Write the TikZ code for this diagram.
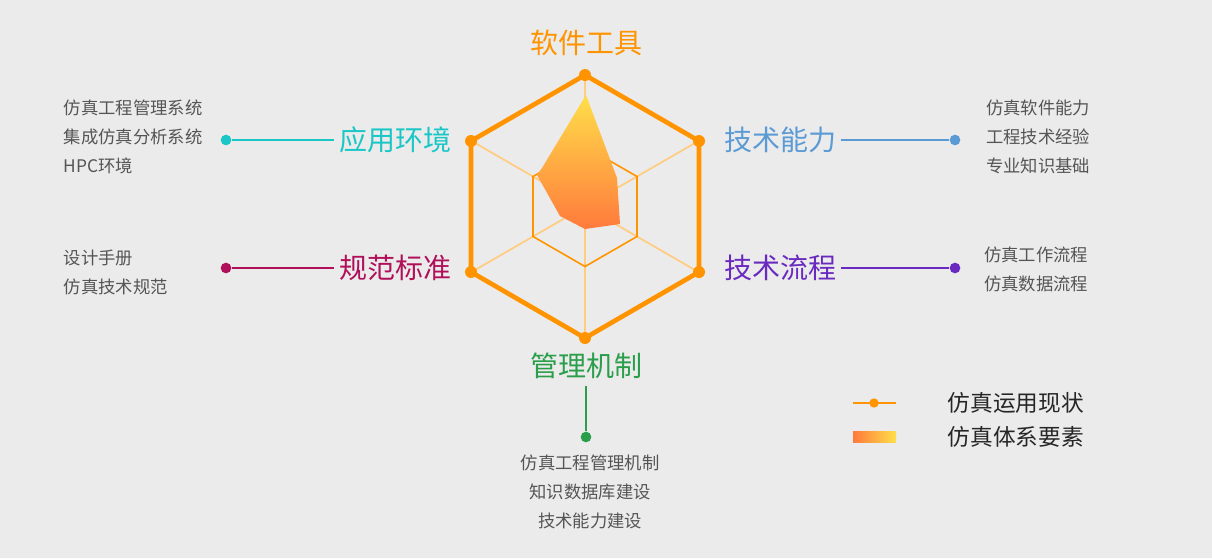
\documentclass[tikz,border=0pt]{standalone}
\usepackage{fontspec}
\setmainfont{Noto Sans CJK SC}
\usetikzlibrary{shadings}
\definecolor{bg}{HTML}{EBEBEB}
\definecolor{org}{HTML}{FF9400}
\definecolor{lorg}{HTML}{FFCC80}
\definecolor{gtxt}{HTML}{555555}
\definecolor{ccyan}{HTML}{1AC6C6}
\definecolor{cblue}{HTML}{5B9BD5}
\definecolor{cmag}{HTML}{B0105A}
\definecolor{cpur}{HTML}{6A2AC0}
\definecolor{cgrn}{HTML}{2A9E4A}
\definecolor{gtop}{HTML}{FFDF4A}
\definecolor{gbot}{HTML}{FF7A3C}
\begin{document}
\begin{tikzpicture}[x=0.75pt,y=-0.75pt,
  big/.style={font=\fontsize{21pt}{24pt}\selectfont},
  small/.style={font=\fontsize{13pt}{16pt}\selectfont,text=gtxt},
  leg/.style={font=\fontsize{17pt}{20pt}\selectfont,text=black!85},
  dot/.style={circle,fill,inner sep=0pt,minimum size=8pt},
  vdot/.style={circle,fill=org,inner sep=0pt,minimum size=9pt}]
\fill[bg] (0,0) rectangle (1212,558);
\useasboundingbox (0,0) rectangle (1212,558);
% spokes
\foreach \a in {90,150,...,450} \draw[lorg,line width=1.3pt] (585,206.5) -- ++(\a:-131.5 and 131.5);
% inner hexagon
\draw[org,line width=1.2pt] (585,146.5) -- (637,176.5) -- (637,236.5) -- (585,266.5) -- (533,236.5) -- (533,176.5) -- cycle;
% data polygon
\shade[top color=gtop,bottom color=gbot] (586,95) -- (617,178) -- (620,224) -- (585,229) -- (560,216) -- (537,175) -- (542,168) -- cycle;
% outer hexagon
\coordinate (v1) at (585,75); \coordinate (v2) at (699,141); \coordinate (v3) at (699,272);
\coordinate (v4) at (585,338); \coordinate (v5) at (471,272); \coordinate (v6) at (471,141);
\draw[org,line width=3.5pt,line join=round] (v1)--(v2)--(v3)--(v4)--(v5)--(v6)--cycle;
\foreach \v in {v1,v2,v3,v4,v5,v6} \node[vdot] at (\v) {};
% labels
\node[big,text=org] (t1) at (586,43) {软件工具};
\node[big,text=ccyan] (t6) at (395,140) {应用环境};
\node[big,text=cblue] (t2) at (780,140) {技术能力};
\node[big,text=cmag] (t5) at (395,268) {规范标准};
\node[big,text=cpur] (t3) at (780,268) {技术流程};
\node[big,text=cgrn] (t4) at (586,366) {管理机制};
% connectors
\node[dot,fill=ccyan] (d6) at (226,140) {};
\node[dot,fill=cblue] (d2) at (955,140) {};
\node[dot,fill=cmag] (d5) at (226,268) {};
\node[dot,fill=cpur] (d3) at (955,268) {};
\node[dot,fill=cgrn] (d4) at (586,437) {};
\draw[ccyan,line width=1.3pt] (d6) -- (t6.west);
\draw[cblue,line width=1.3pt] (t2.east) -- (d2);
\draw[cmag,line width=1.3pt] (d5) -- (t5.west);
\draw[cpur,line width=1.3pt] (t3.east) -- (d3);
\draw[cgrn,line width=1.3pt] (t4.south) ++(0,2) -- (d4);
% small texts
\node[small,anchor=west] (l1) at (59,108) {仿真工程管理系统};
\node[small,anchor=west] (l2) at (59,137) {集成仿真分析系统};
\node[small,anchor=west] (l3) at (59,166) {HPC环境};
\node[small,anchor=west] (l4) at (59,258) {设计手册};
\node[small,anchor=west] (l5) at (59,287) {仿真技术规范};
\node[small,anchor=east] (r1) at (1095,108) {仿真软件能力};
\node[small,anchor=east] (r2) at (1095,137) {工程技术经验};
\node[small,anchor=east] (r3) at (1095,166) {专业知识基础};
\node[small,anchor=east] (r4) at (1093,255) {仿真工作流程};
\node[small,anchor=east] (r5) at (1093,284) {仿真数据流程};
\node[small] (b1) at (590,463) {仿真工程管理机制};
\node[small] (b2) at (590,492) {知识数据库建设};
\node[small] (b3) at (590,521) {技术能力建设};
% legend
\coordinate (la) at (853,403); \coordinate (lb) at (896,403);
\draw[org,line width=2pt] (la) -- (lb);
\node[dot,fill=org,minimum size=7pt] (ld) at (874,403) {};
\shade[left color=gbot,right color=gtop] (853,431) rectangle (896,442);
\node[leg,anchor=west] (g1) at (943,403) {仿真运用现状};
\node[leg,anchor=west] (g2) at (943,437) {仿真体系要素};
\end{tikzpicture}
\end{document}
